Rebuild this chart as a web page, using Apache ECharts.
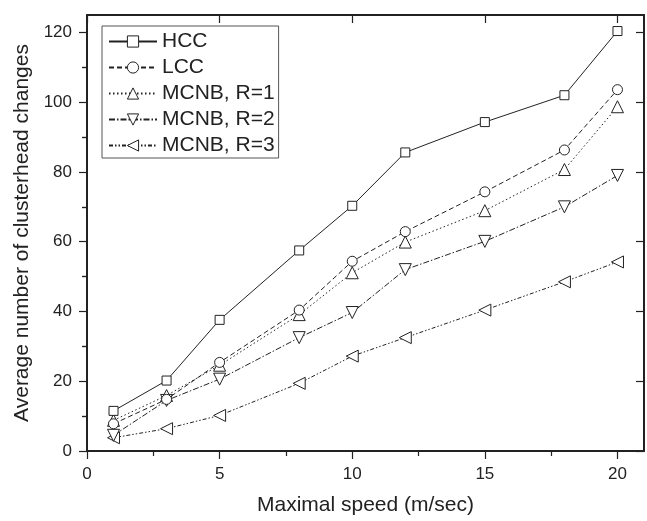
<!DOCTYPE html>
<html>
<head>
<meta charset="utf-8">
<script src="https://cdn.jsdelivr.net/npm/echarts@6/dist/echarts.min.js"></script>
<style>html,body{margin:0;padding:0;background:#fff}#c{width:647px;height:521px}</style>
</head>
<body>
<div id="c"></div>
<script>
const speeds = [1, 3, 5, 8, 10, 12, 15, 18, 20];
const hcc  = [11.5, 20.2, 37.6, 57.5, 70.3, 85.6, 94.3, 102.0, 120.4];
const lcc  = [7.8, 14.8, 25.4, 40.4, 54.4, 62.9, 74.3, 86.3, 103.6];
const mcnb1 = [8.8, 15.9, 24.6, 39.1, 51.1, 59.9, 68.9, 80.7, 98.7];
const mcnb2 = [4.5, 14.5, 20.6, 32.5, 39.7, 52.0, 60.1, 70.0, 79.0];
const mcnb3 = [3.8, 6.4, 10.2, 19.4, 27.2, 32.5, 40.4, 48.5, 54.2];
const seriesNames = ['HCC', 'LCC', 'MCNB, R=1', 'MCNB, R=2', 'MCNB, R=3'];
const xMajorTicks = [0, 5, 10, 15, 20];
const xMinorTicks = [2.5, 7.5, 12.5, 17.5];
const yMajorTicks = [0, 20, 40, 60, 80, 100, 120];
const yMinorTicks = [10, 30, 50, 70, 90, 110];

const FONT = '"Liberation Sans", Arial, Helvetica, sans-serif';
const INK = '#222';
const chart = echarts.init(document.getElementById('c'), null, {renderer: 'canvas'});

function pairs(v) { return speeds.map((s, i) => [s, v[i]]); }

function axisBase(extra) {
  return Object.assign({
    type: 'value', gridIndex: 0, splitLine: {show: false},
    axisLine: {show: false}, axisLabel: {show: false}, axisTick: {show: false}
  }, extra);
}

const xAxes = [
  axisBase({position: 'bottom', min: 0, max: 21,
    axisLine: {show: true, onZero: false, lineStyle: {color: INK, width: 2}},
    axisTick: {show: true, inside: false, length: 8, customValues: xMajorTicks, lineStyle: {color: INK, width: 1.2}},
    axisLabel: {show: true, customValues: xMajorTicks, margin: 15, fontSize: 17, color: INK, fontFamily: FONT},
    name: 'Maximal speed (m/sec)', nameLocation: 'middle', nameGap: 44,
    nameTextStyle: {fontSize: 21, color: INK, fontFamily: FONT}}),
  axisBase({position: 'bottom', min: 0, max: 21,
    axisTick: {show: true, inside: false, length: 5, customValues: xMinorTicks, lineStyle: {color: INK, width: 1.2}}}),
  axisBase({position: 'top', min: 0, max: 21,
    axisLine: {show: true, onZero: false, lineStyle: {color: INK, width: 2}},
    axisTick: {show: true, inside: true, length: 8, customValues: xMajorTicks, lineStyle: {color: INK, width: 1.2}}})
];
const yAxes = [
  axisBase({position: 'left', min: 0, max: 125,
    axisLine: {show: true, onZero: false, lineStyle: {color: INK, width: 2}},
    axisTick: {show: true, inside: false, length: 8, customValues: yMajorTicks, lineStyle: {color: INK, width: 1.2}},
    axisLabel: {show: true, customValues: yMajorTicks, margin: 15, fontSize: 17, color: INK, fontFamily: FONT},
    name: 'Average number of clusterhead changes', nameLocation: 'middle', nameGap: 52, nameRotate: 90,
    nameTextStyle: {fontSize: 21, color: INK, fontFamily: FONT}}),
  axisBase({position: 'left', min: 0, max: 125,
    axisTick: {show: true, inside: false, length: 5, customValues: yMinorTicks, lineStyle: {color: INK, width: 1.2}}}),
  axisBase({position: 'right', min: 0, max: 125,
    axisLine: {show: true, onZero: false, lineStyle: {color: INK, width: 2}},
    axisTick: {show: true, inside: true, length: 8, customValues: yMajorTicks, lineStyle: {color: INK, width: 1.2}}}),
  axisBase({position: 'right', min: 0, max: 125,
    axisTick: {show: true, inside: true, length: 5, customValues: yMinorTicks, lineStyle: {color: INK, width: 1.2}}})
];

const styles = [
  {symbol: 'rect', size: 9, rotate: 0, dash: 'solid'},
  {symbol: 'circle', size: 10, rotate: 0, dash: [5, 3]},
  {symbol: 'triangle', size: 12, rotate: 0, dash: [1.5, 2.5]},
  {symbol: 'triangle', size: 12, rotate: 180, dash: [6, 2, 1.5, 2]},
  {symbol: 'triangle', size: 12, rotate: 90, dash: [4, 2, 1.5, 2, 1.5, 2]}
];
const datasets = [hcc, lcc, mcnb1, mcnb2, mcnb3];

const series = datasets.map((d, i) => ({
  name: seriesNames[i], type: 'line', xAxisIndex: 0, yAxisIndex: 0,
  data: pairs(d),
  symbol: styles[i].symbol, symbolSize: styles[i].size, symbolRotate: styles[i].rotate,
  showAllSymbol: true,
  lineStyle: {color: INK, width: 1, type: styles[i].dash},
  itemStyle: {color: '#fff', borderColor: INK, borderWidth: 1},
  emphasis: {disabled: true},
  z: 10 - i
}));

chart.setOption({
  animation: false,
  backgroundColor: '#fff',
  grid: {left: 87, right: 3, top: 15, bottom: 66, containLabel: false},
  xAxis: xAxes,
  yAxis: yAxes,
  legend: {
    orient: 'vertical', left: 102, top: 26,
    data: seriesNames,
    itemWidth: 48, itemHeight: 14, itemGap: 5,
    padding: [5, 4, 2, 6],
    borderColor: '#555', borderWidth: 1, backgroundColor: '#fff',
    itemStyle: {color: '#fff', borderColor: INK, borderWidth: 1},
    textStyle: {fontSize: 21, lineHeight: 21, color: INK, fontFamily: FONT},
    selectedMode: false
  },
  series: series
});
</script>
</body>
</html>
